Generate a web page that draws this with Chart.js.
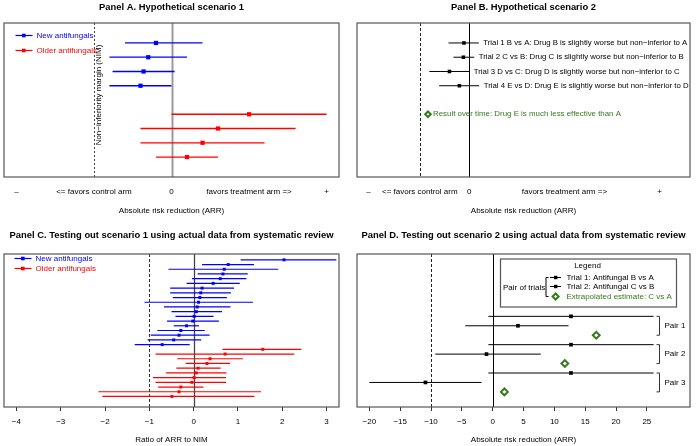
<!DOCTYPE html>
<html>
<head>
<meta charset="utf-8">
<script src="https://cdn.jsdelivr.net/npm/chart.js@4.4.1/dist/chart.umd.min.js"></script>
<style>
  body { margin: 0; background: #fff; }
  #wrap { position: relative; width: 696px; height: 446px; }
  canvas { position: absolute; }
</style>
</head>
<body>
<div id="wrap">
  <canvas id="panelA" width="348" height="223" style="left:0;top:0"></canvas>
  <canvas id="panelB" width="348" height="223" style="left:348px;top:0"></canvas>
  <canvas id="panelC" width="348" height="223" style="left:0;top:223px"></canvas>
  <canvas id="panelD" width="348" height="223" style="left:348px;top:223px"></canvas>
</div>
<script>
// ---- Panel A: hypothetical scenario 1 ----
const aRowsNew = [1, 2, 3, 4];
const aNewEst = [-0.10, -0.15, -0.18, -0.20];
const aNewLo = [-0.30, -0.40, -0.38, -0.40];
const aNewHi = [0.20, 0.10, 0.02, 0.00];
const aRowsOld = [6, 7, 8, 9];
const aOldEst = [0.50, 0.30, 0.20, 0.10];
const aOldLo = [0.00, -0.20, -0.20, -0.10];
const aOldHi = [1.00, 0.80, 0.60, 0.30];
const aTicks = [-1, -0.5, 0, 0.5, 1];
const aTickLabels = ['\u2013', '<= favors control arm', '0', 'favors treatment arm =>', '+'];
const aNim = -0.5;

// ---- Panel B: hypothetical scenario 2 ----
const bRows = [1, 2, 3, 4];
const bEst = [-0.028, -0.031, -0.104, -0.052];
const bLo = [-0.109, -0.083, -0.210, -0.158];
const bHi = [0.050, 0.026, 0.000, 0.052];
const bTrialLabels = [
  'Trial 1 B vs A: Drug B is slightly worse but non\u2212inferior to A',
  'Trial 2 C vs B: Drug C is slightly worse but non\u2212inferior to B',
  'Trial 3 D vs C: Drug D is slightly worse but non\u2212inferior to C',
  'Trial 4 E vs D: Drug E is slightly worse but non\u2212inferior to D'
];
const bOverallRow = 6;
const bOverall = -0.217;
const bOverallLabel = 'Result over time: Drug E is much less effective than A';
const bTicks = [-0.53, -0.26, 0, 0.5, 1];
const bTickLabels = ['\u2013', '<= favors control arm', '0', 'favors treatment arm =>', '+'];
const bNim = -0.26;

// ---- Panel C: actual data, ratio of ARR to NIM ----
const cNewEst = [2.04, 0.78, 0.69, 0.66, 0.60, 0.44, 0.19, 0.16, 0.14, 0.11, 0.08, 0.06, 0.01, -0.02, -0.16, -0.29, -0.33, -0.45, -0.71];
const cNewLo = [1.06, 0.19, -0.57, 0.09, -0.04, -0.16, -0.53, -0.53, -0.47, -1.11, -0.67, -0.50, -0.41, -0.60, -0.45, -0.82, -0.97, -1.04, -1.33];
const cNewHi = [3.22, 1.36, 1.91, 1.22, 1.19, 1.04, 0.91, 0.84, 0.75, 1.34, 0.83, 0.64, 0.45, 0.57, 0.12, 0.25, 0.36, 0.17, -0.09];
const cOldEst = [1.56, 0.71, 0.37, 0.30, 0.10, 0.06, 0.01, -0.04, -0.29, -0.33, -0.49];
const cOldLo = [0.65, -0.86, -0.37, -0.18, -0.39, -0.62, -0.92, -0.86, -0.80, -2.15, -2.06];
const cOldHi = [2.43, 2.27, 1.11, 0.82, 0.61, 0.74, 0.73, 0.73, 0.22, 1.52, 1.37];
const cTicks = [-4, -3, -2, -1, 0, 1, 2, 3];
const cNim = -1;

// ---- Panel D: actual data, pairs of trials ----
const dPairLabels = ['Pair 1', 'Pair 2', 'Pair 3'];
const dT1Est = [12.7, 12.7, 12.7];
const dT1Lo = [-0.7, -0.7, -0.7];
const dT1Hi = [26.1, 26.1, 26.1];
const dT2Est = [4.1, -1.0, -10.9];
const dT2Lo = [-4.45, -9.3, -20.0];
const dT2Hi = [12.3, 7.8, -1.8];
const dExtrap = [16.8, 11.7, 1.9];
const dTicks = [-20, -15, -10, -5, 0, 5, 10, 15, 20, 25];
const dNim = -10;

const BLUE = '#0000ff';
const RED = '#ff0000';
const GREEN = '#357a1c';
const FONT = "'Liberation Sans', Arial, Helvetica, sans-serif";

Chart.defaults.font.family = FONT;
Chart.defaults.font.size = 8;
Chart.defaults.color = '#000';
Chart.defaults.animation = false;

function rowsFrom(start, n) {
  return Array.from({length: n}, (_, i) => start + i);
}

function ciDatasets(est, lo, hi, rows, color, radius, width) {
  const sets = [{
    data: rows.map((r, i) => ({x: est[i], y: r})),
    pointStyle: 'rect', pointRadius: radius, backgroundColor: color, borderWidth: 0
  }];
  rows.forEach((r, i) => sets.push({
    type: 'line',
    data: [{x: lo[i], y: r}, {x: hi[i], y: r}],
    borderColor: color, borderWidth: width, pointRadius: 0, showLine: true
  }));
  return sets;
}

function diamondSet(vals, rows, radius) {
  return {
    data: rows.map((r, i) => ({x: vals[i], y: r})),
    pointStyle: 'rectRot', pointRadius: radius, borderColor: GREEN,
    backgroundColor: '#fff', borderWidth: 2
  };
}

function xAxis(min, max, ticks, labels, o) {
  return {
    type: 'linear', min: min, max: max,
    afterBuildTicks: s => { s.ticks = ticks.map(v => ({value: v})); },
    afterFit: s => { s.height = o.height; },
    ticks: {autoSkip: false, maxRotation: 0, padding: o.pad, callback: (v, i) => labels[i]},
    grid: {display: o.marks, drawOnChartArea: false, drawTicks: o.marks, tickLength: 4, color: '#333', lineWidth: 1},
    border: {display: false},
    title: {display: true, text: o.title, padding: {top: 0, bottom: o.titlePad}}
  };
}

function yAxis(min, max) {
  return {type: 'linear', display: false, min: min, max: max, reverse: true};
}

function vline(chart, v, color, width, dash) {
  const {ctx, chartArea: a} = chart;
  const px = Math.round(chart.scales.x.getPixelForValue(v)) + 0.5;
  ctx.save();
  ctx.strokeStyle = color;
  ctx.lineWidth = width;
  ctx.setLineDash(dash || []);
  ctx.beginPath();
  ctx.moveTo(px, a.top);
  ctx.lineTo(px, a.bottom);
  ctx.stroke();
  ctx.restore();
}

function frame(chart) {
  const {ctx, chartArea: a} = chart;
  ctx.save();
  ctx.strokeStyle = '#555';
  ctx.lineWidth = 1.2;
  ctx.strokeRect(a.left, a.top, a.right - a.left, a.bottom - a.top);
  ctx.restore();
}

function heading(chart, text, y) {
  const ctx = chart.ctx;
  ctx.save();
  ctx.font = 'bold 9.4px ' + FONT;
  ctx.fillStyle = '#000';
  ctx.textAlign = 'center';
  ctx.textBaseline = 'middle';
  ctx.fillText(text, (chart.chartArea.left + chart.chartArea.right) / 2, y);
  ctx.restore();
}

function textAt(ctx, text, x, y, color, size, align) {
  ctx.save();
  ctx.font = size + 'px ' + FONT;
  ctx.fillStyle = color;
  ctx.textAlign = align || 'left';
  ctx.textBaseline = 'middle';
  ctx.fillText(text, x, y);
  ctx.restore();
}

function legendKey(ctx, x, y, color, label, size) {
  ctx.save();
  ctx.strokeStyle = color;
  ctx.fillStyle = color;
  ctx.lineWidth = 1.2;
  ctx.beginPath();
  ctx.moveTo(x, y);
  ctx.lineTo(x + 17, y);
  ctx.stroke();
  ctx.fillRect(x + 6.5, y - 1.8, 3.6, 3.6);
  ctx.restore();
  textAt(ctx, label, x + 21, y, color, size);
}

function baseOptions(pad, x, y) {
  return {
    responsive: false,
    devicePixelRatio: 1,
    animation: false,
    layout: {padding: pad},
    plugins: {legend: {display: false}, tooltip: {enabled: false}},
    scales: {x: x, y: y}
  };
}

// ---- Panel A ----
new Chart(document.getElementById('panelA'), {
  type: 'scatter',
  data: {datasets: [
    ...ciDatasets(aNewEst, aNewLo, aNewHi, aRowsNew, BLUE, 3, 1.3),
    ...ciDatasets(aOldEst, aOldLo, aOldHi, aRowsOld, RED, 3, 1.3)
  ]},
  options: baseOptions({left: 2, right: 9, top: 23, bottom: 0},
    xAxis(-1.08, 1.08, aTicks, aTickLabels, {height: 46, pad: 10, marks: false, title: 'Absolute risk reduction (ARR)', titlePad: 7}),
    yAxis(-0.4, 10.4)),
  plugins: [{
    id: 'decorA',
    beforeDatasetsDraw(chart) {
      vline(chart, 0, '#9a9a9a', 2);
      vline(chart, aNim, '#444', 1, [2, 2]);
      const ctx = chart.ctx;
      const px = chart.scales.x.getPixelForValue(aNim) + 5;
      ctx.save();
      ctx.translate(px, chart.scales.y.getPixelForValue(4.65));
      ctx.rotate(-Math.PI / 2);
      textAt(ctx, 'Non\u2212inferiority margin (NIM)', 0, 0, '#000', 8, 'center');
      ctx.restore();
    },
    afterDraw(chart) {
      frame(chart);
      heading(chart, 'Panel A. Hypothetical scenario 1', 7);
      const a = chart.chartArea;
      legendKey(chart.ctx, a.left + 11.5, a.top + 12.5, BLUE, 'New antifungals', 8);
      legendKey(chart.ctx, a.left + 11.5, a.top + 27.5, RED, 'Older antifungals', 8);
    }
  }]
});

// ---- Panel B ----
new Chart(document.getElementById('panelB'), {
  type: 'scatter',
  data: {datasets: [
    diamondSet([bOverall], [bOverallRow], 2.8),
    ...ciDatasets(bEst, bLo, bHi, bRows, '#000', 2.5, 1)
  ]},
  options: baseOptions({left: 9, right: 2, top: 23, bottom: 0},
    xAxis(-0.59, 1.16, bTicks, bTickLabels, {height: 46, pad: 10, marks: false, title: 'Absolute risk reduction (ARR)', titlePad: 7}),
    yAxis(-0.4, 10.4)),
  plugins: [{
    id: 'decorB',
    beforeDatasetsDraw(chart) {
      vline(chart, 0, '#000', 1);
      vline(chart, bNim, '#222', 1, [3, 2]);
    },
    afterDraw(chart) {
      const {ctx, scales: {x, y}} = chart;
      bTrialLabels.forEach((t, i) => {
        textAt(ctx, t, x.getPixelForValue(bHi[i]) + 4.5, y.getPixelForValue(bRows[i]), '#000', 7.8);
      });
      textAt(ctx, bOverallLabel, x.getPixelForValue(bOverall) + 5, y.getPixelForValue(bOverallRow), GREEN, 7.9);
      frame(chart);
      heading(chart, 'Panel B. Hypothetical scenario 2', 7);
    }
  }]
});

// ---- Panel C ----
const cRowsNew = rowsFrom(1, cNewEst.length);
const cRowsOld = rowsFrom(cNewEst.length + 1, cOldEst.length);
const signed = v => v < 0 ? '\u2212' + Math.abs(v) : String(v);

new Chart(document.getElementById('panelC'), {
  type: 'scatter',
  data: {datasets: [
    ...ciDatasets(cNewEst, cNewLo, cNewHi, cRowsNew, BLUE, 2.1, 1.2),
    ...ciDatasets(cOldEst, cOldLo, cOldHi, cRowsOld, RED, 2.1, 1.2)
  ]},
  options: baseOptions({left: 3, right: 9, top: 31, bottom: 0},
    xAxis(-4.28, 3.28, cTicks, cTicks.map(signed), {height: 39, pad: 6, marks: true, title: 'Ratio of ARR to NIM', titlePad: 1}),
    yAxis(-0.24, 32.24)),
  plugins: [{
    id: 'decorC',
    beforeDatasetsDraw(chart) {
      vline(chart, 0, '#444', 1.3);
      vline(chart, cNim, '#333', 1, [3, 2]);
    },
    afterDraw(chart) {
      frame(chart);
      heading(chart, 'Panel C. Testing out scenario 1 using actual data from systematic review', 12.5);
      const a = chart.chartArea;
      legendKey(chart.ctx, a.left + 10.5, a.top + 4.5, BLUE, 'New antifungals', 8);
      legendKey(chart.ctx, a.left + 10.5, a.top + 14.5, RED, 'Older antifungals', 8);
    }
  }]
});

// ---- Panel D ----
const dRowsT1 = dPairLabels.map((_, p) => 3 * p + 1);
const dRowsT2 = dPairLabels.map((_, p) => 3 * p + 2);
const dRowsEx = dPairLabels.map((_, p) => 3 * p + 3);

new Chart(document.getElementById('panelD'), {
  type: 'scatter',
  data: {datasets: [
    diamondSet(dExtrap, dRowsEx, 3.4),
    ...ciDatasets(dT1Est, dT1Lo, dT1Hi, dRowsT1, '#000', 2.6, 1),
    ...ciDatasets(dT2Est, dT2Lo, dT2Hi, dRowsT2, '#000', 2.6, 1)
  ]},
  options: baseOptions({left: 9, right: 2, top: 31, bottom: 0},
    xAxis(-22, 32, dTicks, dTicks.map(signed), {height: 39, pad: 6, marks: true, title: 'Absolute risk reduction (ARR)', titlePad: 1}),
    yAxis(-5.6, 10.6)),
  plugins: [{
    id: 'decorD',
    beforeDatasetsDraw(chart) {
      vline(chart, 0, '#000', 1);
      vline(chart, dNim, '#222', 1, [3, 2]);
    },
    afterDraw(chart) {
      const {ctx, chartArea: a, scales: {y}} = chart;
      frame(chart);
      heading(chart, 'Panel D. Testing out scenario 2 using actual data from systematic review', 12.5);

      // pair brackets
      ctx.save();
      ctx.strokeStyle = '#333';
      ctx.lineWidth = 1;
      const bx = a.right - 30.5;
      dPairLabels.forEach((lab, p) => {
        const y1 = y.getPixelForValue(dRowsT1[p]), y2 = y.getPixelForValue(dRowsEx[p]);
        ctx.beginPath();
        ctx.moveTo(bx - 3, y1); ctx.lineTo(bx, y1); ctx.lineTo(bx, y2); ctx.lineTo(bx - 3, y2);
        ctx.stroke();
        textAt(ctx, lab, bx + 5, y.getPixelForValue(dRowsT2[p]), '#000', 8);
      });
      ctx.restore();

      // legend box
      const lx = 152.5, ly = 36, lw = 176, lh = 48;
      ctx.save();
      ctx.strokeStyle = '#555';
      ctx.lineWidth = 1.2;
      ctx.strokeRect(lx, ly, lw, lh);
      ctx.restore();
      textAt(ctx, 'Legend', lx + 87, ly + 7, '#000', 8, 'center');
      textAt(ctx, 'Pair of trials', lx + 2.5, ly + 28.5, '#000', 8);
      const kx = lx + 45.5, r1 = ly + 18.5, r2 = ly + 27.5, r3 = ly + 37.5;
      ctx.save();
      ctx.strokeStyle = '#000';
      ctx.lineWidth = 1;
      ctx.beginPath();
      ctx.moveTo(kx + 2.5, r1); ctx.lineTo(kx, r1); ctx.lineTo(kx, r3); ctx.lineTo(kx + 2.5, r3);
      ctx.moveTo(kx + 4, r1); ctx.lineTo(kx + 15, r1);
      ctx.moveTo(kx + 4, r2); ctx.lineTo(kx + 15, r2);
      ctx.stroke();
      ctx.fillStyle = '#000';
      ctx.fillRect(kx + 8, r1 - 1.7, 3.4, 3.4);
      ctx.fillRect(kx + 8, r2 - 1.7, 3.4, 3.4);
      ctx.strokeStyle = GREEN;
      ctx.lineWidth = 2;
      ctx.beginPath();
      ctx.moveTo(kx + 9.6, r3 - 3); ctx.lineTo(kx + 12.6, r3); ctx.lineTo(kx + 9.6, r3 + 3); ctx.lineTo(kx + 6.6, r3);
      ctx.closePath();
      ctx.stroke();
      ctx.restore();
      textAt(ctx, 'Trial 1: Antifungal B vs A', kx + 20.5, r1, '#000', 8);
      textAt(ctx, 'Trial 2: Antifungal C vs B', kx + 20.5, r2, '#000', 8);
      textAt(ctx, 'Extrapolated estimate: C vs A', kx + 20.5, r3, GREEN, 8);
    }
  }]
});
</script>
</body>
</html>
